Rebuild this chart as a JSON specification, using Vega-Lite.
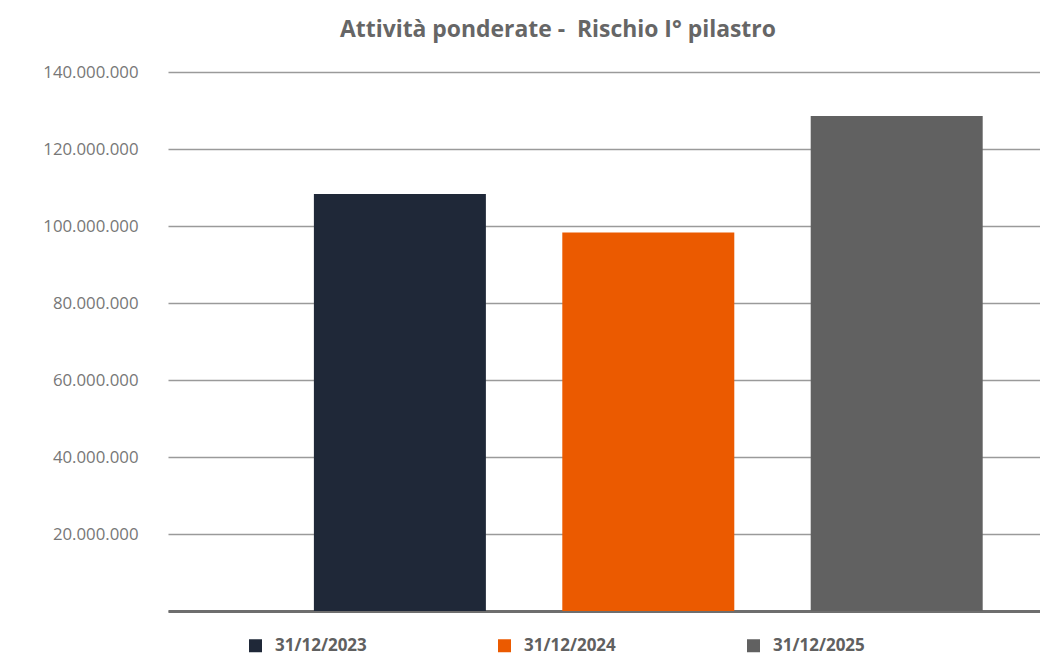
{
  "$schema": "https://vega.github.io/schema/vega-lite/v6.json",
  "width": 872,
  "height": 539,
  "autosize": {"type": "none"},
  "padding": {"left": 168, "top": 72, "right": 0, "bottom": 44},
  "background": "white",
  "title": {
    "text": "Attività ponderate -\u00a0 Rischio I° pilastro",
    "anchor": "start",
    "frame": "group",
    "dx": 172,
    "offset": 22,
    "font": "Open Sans",
    "fontSize": 22.9,
    "fontWeight": "bold",
    "color": "#666666"
  },
  "config": {
    "locale": {"number": {"decimal": ",", "thousands": ".", "grouping": [3], "currency": ["€", ""]}},
    "view": {"stroke": null},
    "font": "Open Sans"
  },
  "data": {
    "values": [
      {"data": "31/12/2023", "valore": 108300000},
      {"data": "31/12/2024", "valore": 98300000},
      {"data": "31/12/2025", "valore": 128600000}
    ]
  },
  "mark": {"type": "bar"},
  "encoding": {
    "x": {
      "field": "data",
      "type": "nominal",
      "sort": null,
      "scale": {"paddingInner": 0.3076, "paddingOuter": 0.409, "align": 0.718},
      "axis": {"labels": false, "ticks": false, "title": null, "domain": true, "domainColor": "#6e6e6e", "domainWidth": 3, "grid": false}
    },
    "y": {
      "field": "valore",
      "type": "quantitative",
      "scale": {"domain": [0, 140000000], "nice": false},
      "axis": {
        "values": [0, 20000000, 40000000, 60000000, 80000000, 100000000, 120000000, 140000000],
        "format": ",d",
        "labelExpr": "datum.value == 0 ? '' : datum.label",
        "title": null,
        "domain": false,
        "ticks": false,
        "labelPadding": 30,
        "labelFont": "Open Sans",
        "labelFontSize": 16.8,
        "labelColor": "#777777",
        "gridColor": "#9a9a9a",
        "gridWidth": 1.3
      }
    },
    "color": {
      "field": "data",
      "type": "nominal",
      "scale": {"domain": ["31/12/2023", "31/12/2024", "31/12/2025"], "range": ["#1f2838", "#eb5a00", "#616161"]},
      "legend": {
        "title": null,
        "orient": "none",
        "legendX": 79,
        "legendY": 565,
        "direction": "horizontal",
        "columns": 3,
        "columnPadding": 129,
        "symbolType": "square",
        "symbolSize": 169,
        "symbolStrokeWidth": 0,
        "labelOffset": 11,
        "labelFont": "Open Sans",
        "labelFontSize": 17,
        "labelFontWeight": "bold",
        "labelColor": "#606060"
      }
    }
  }
}
